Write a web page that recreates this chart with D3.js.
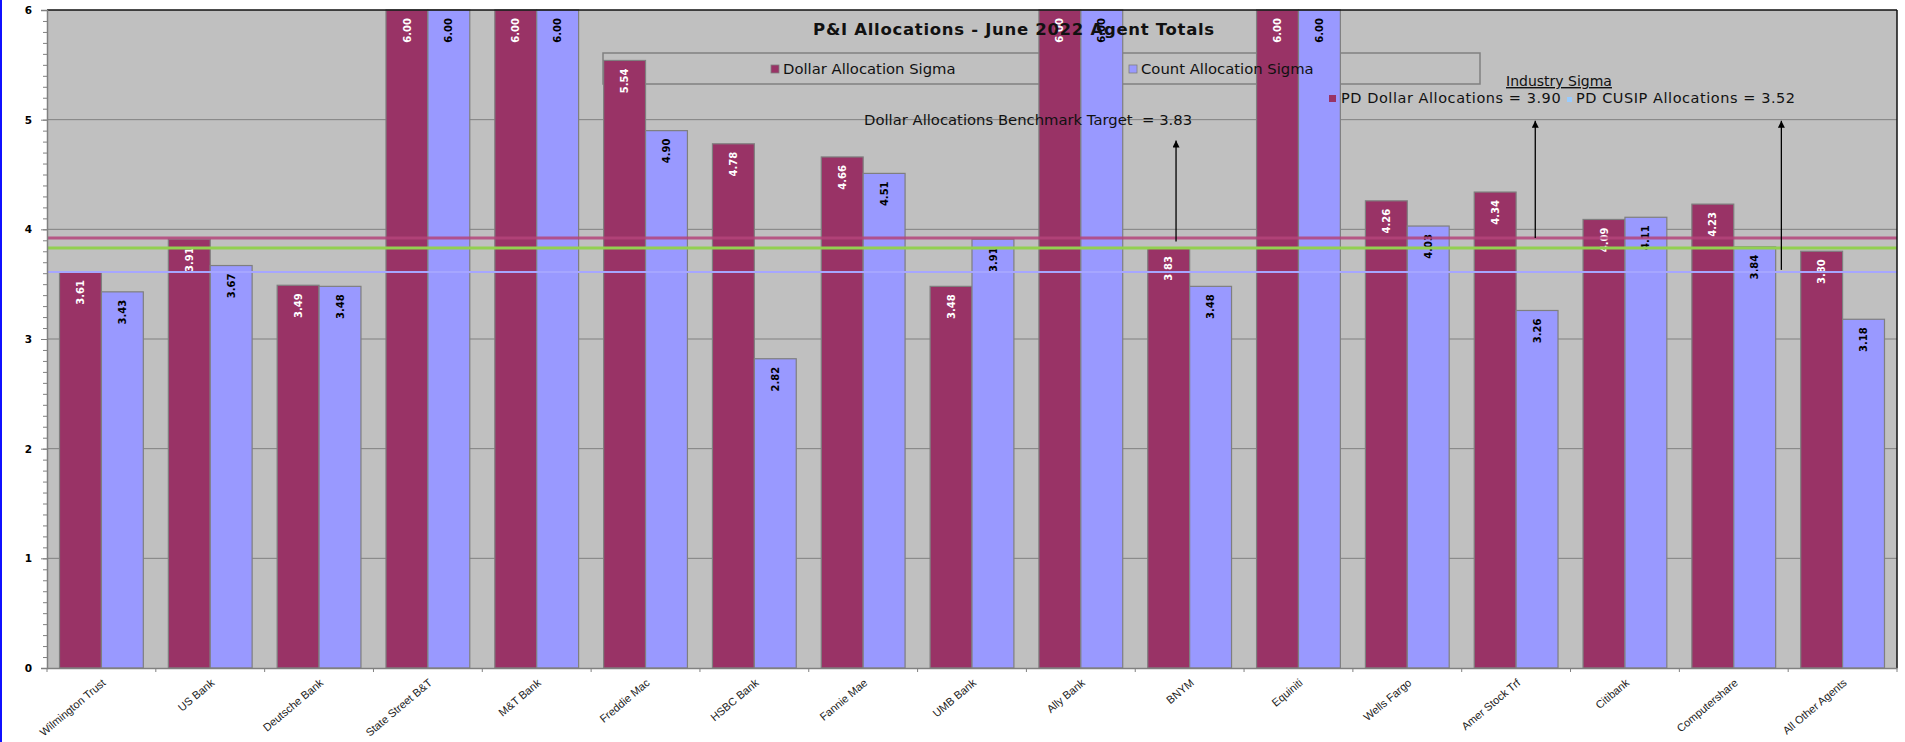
<!DOCTYPE html>
<html>
<head>
<meta charset="utf-8">
<script src="https://cdn.jsdelivr.net/npm/d3@7"></script>
<style>
body { margin: 0; background: #fff; }
.chart svg { display: block; }
</style>
</head>
<body>
<div class="chart"></div>
<script>
// values
const agents = ["Wilmington Trust", "US Bank", "Deutsche Bank", "State Street B&T", "M&T Bank",
  "Freddie Mac", "HSBC Bank", "Fannie Mae", "UMB Bank", "Ally Bank", "BNYM", "Equiniti",
  "Wells Fargo", "Amer Stock Trf", "Citibank", "Computershare", "All Other Agents"];
const dollarSigma = [3.61, 3.91, 3.49, 6.00, 6.00, 5.54, 4.78, 4.66, 3.48, 6.00, 3.83, 6.00, 4.26, 4.34, 4.09, 4.23, 3.80];
const countSigma  = [3.43, 3.67, 3.48, 6.00, 6.00, 4.90, 2.82, 4.51, 3.91, 6.00, 3.48, 6.00, 4.03, 3.26, 4.11, 3.84, 3.18];
const seriesNames = ["Dollar Allocation Sigma", "Count Allocation Sigma"];
const yTicks = [0, 1, 2, 3, 4, 5, 6];

// horizontal reference lines as drawn (industry dollar, benchmark, industry cusip)
const refLines = [3.92, 3.83, 3.61];
const benchmarkLabel = "Dollar Allocations Benchmark Target  = 3.83";
const industryLabels = ["PD Dollar Allocations = 3.90", "PD CUSIP Allocations = 3.52"];

// arrows: agent, position within its band, from value, to value
const arrowAgents = ["BNYM", "Amer Stock Trf", "Computershare"];
const arrowOffsets = [0.375, 0.676, 0.9375];
const arrowFrom = [3.89, 3.92, 3.63];
const arrowTo = [4.81, 4.99, 4.99];

const width = 1905, height = 742;
const margin = ({top: 10, right: 8, bottom: 74, left: 47});
const colors = ["#993366", "#9999ff"];
const noteFont = "DejaVu Sans";

const svg = d3.select(".chart")
  .append("svg")
  .attr("width", width)
  .attr("height", height);

svg.append("rect")
  .attr("x", 0).attr("y", 0).attr("width", 2).attr("height", height)
  .attr("fill", "#1010ff");

const x0 = d3.scaleBand()
  .domain(agents)
  .range([margin.left, width - margin.right])
  .paddingInner(0.23)
  .paddingOuter(0.115);

const x1 = d3.scaleBand()
  .domain([0, 1])
  .range([0, x0.bandwidth()]);

const y = d3.scaleLinear()
  .domain([0, 6])
  .range([height - margin.bottom, margin.top]);

const plotL = margin.left, plotR = width - margin.right;

// plot background
svg.append("rect")
  .attr("x", plotL).attr("y", y(6))
  .attr("width", plotR - plotL).attr("height", y(0) - y(6))
  .attr("fill", "#c0c0c0");

// gridlines
svg.append("g")
  .selectAll("line")
  .data(yTicks.slice(1, -1))
  .join("line")
  .attr("x1", plotL).attr("x2", plotR)
  .attr("y1", d => y(d)).attr("y2", d => y(d))
  .attr("stroke", "#808080")
  .attr("stroke-width", 1);

// legend box (behind the bars)
svg.append("rect")
  .attr("x", 603).attr("y", 53)
  .attr("width", 877).attr("height", 31)
  .attr("fill", "none")
  .attr("stroke", "#808080")
  .attr("stroke-width", 1.5);

// bars
const rows = agents.map((a, i) => ({agent: a, values: [dollarSigma[i], countSigma[i]]}));

const groups = svg.append("g")
  .selectAll("g")
  .data(rows)
  .join("g")
  .attr("transform", d => `translate(${x0(d.agent)},0)`);

groups.selectAll("rect")
  .data(d => d.values.map((v, k) => ({k, v})))
  .join("rect")
  .attr("x", d => x1(d.k))
  .attr("y", d => y(Math.min(d.v, 6)))
  .attr("width", x1.bandwidth())
  .attr("height", d => y(0) - y(Math.min(d.v, 6)))
  .attr("fill", d => colors[d.k])
  .attr("stroke", "#7f7f7f")
  .attr("stroke-width", 1.2);

// reference lines
const refColors = ["#b4447a", "#92d050", "#a6a6ff"];
const refWidths = [3, 3, 2];
svg.append("g")
  .selectAll("line")
  .data(refLines)
  .join("line")
  .attr("x1", plotL).attr("x2", plotR)
  .attr("y1", d => y(d)).attr("y2", d => y(d))
  .attr("stroke", (d, i) => refColors[i])
  .attr("stroke-width", (d, i) => refWidths[i])
  .attr("stroke-opacity", (d, i) => i == 0 ? 0.85 : 1);

// value labels
groups.selectAll("text")
  .data(d => d.values.map((v, k) => ({k, v})))
  .join("text")
  .attr("transform", d => `translate(${x1(d.k) + x1.bandwidth() / 2},${y(Math.min(d.v, 6)) + 8}) rotate(-90)`)
  .attr("text-anchor", "end")
  .attr("dy", "0.36em")
  .attr("font-family", "DejaVu Sans")
  .attr("font-weight", "bold")
  .attr("font-size", 10)
  .attr("fill", d => d.k == 0 ? "#fff" : "#000")
  .text(d => d.v.toFixed(2));

// borders: top and right black
svg.append("line")
  .attr("x1", plotL).attr("x2", plotR)
  .attr("y1", y(6)).attr("y2", y(6))
  .attr("stroke", "#111").attr("stroke-width", 1.5);
svg.append("line")
  .attr("x1", plotR).attr("x2", plotR)
  .attr("y1", y(6)).attr("y2", y(0))
  .attr("stroke", "#111").attr("stroke-width", 1.5);

// y axis
const yAxis = d3.axisLeft(y)
  .tickValues(yTicks)
  .tickFormat(d3.format("d"))
  .tickSize(6)
  .tickPadding(9);

const yMinor = d3.axisLeft(y)
  .tickValues(d3.range(0, 60).map(d => d / 10))
  .tickSize(4)
  .tickFormat("");

svg.append("g")
  .attr("transform", `translate(${plotL},0)`)
  .call(yMinor)
  .call(g => g.selectAll("line").attr("stroke", "#808080"))
  .call(g => g.select(".domain").remove());

svg.append("g")
  .attr("transform", `translate(${plotL},0)`)
  .call(yAxis)
  .call(g => g.select(".domain").attr("stroke", "#808080").attr("stroke-width", 1.5))
  .call(g => g.selectAll("line").attr("stroke", "#808080"))
  .call(g => g.selectAll("text")
    .attr("font-family", "DejaVu Sans")
    .attr("font-weight", "bold")
    .attr("font-size", 10.5)
    .attr("fill", "#000"));

// x axis
const xAxis = d3.axisBottom(x0)
  .tickSize(0)
  .tickPadding(0);

svg.append("g")
  .attr("transform", `translate(0,${y(0)})`)
  .call(xAxis)
  .call(g => g.select(".domain").attr("stroke", "#808080").attr("stroke-width", 1.5))
  .call(g => g.selectAll("text")
    .attr("y", 0).attr("dy", 0)
    .attr("transform", "translate(5,16) rotate(-40)")
    .attr("text-anchor", "end")
    .attr("font-family", "Liberation Sans")
    .attr("font-size", 11)
    .attr("fill", "#222"));

// tick marks at band edges
const edges = agents.map(a => x0(a) - x0.step() * x0.paddingOuter()).concat([plotR]);
svg.append("g")
  .selectAll("line")
  .data(edges)
  .join("line")
  .attr("x1", d => d).attr("x2", d => d)
  .attr("y1", y(0)).attr("y2", y(0) + 4)
  .attr("stroke", "#808080");

// title
svg.append("text")
  .attr("x", 1014).attr("y", 35)
  .attr("text-anchor", "middle")
  .attr("font-family", "DejaVu Sans")
  .attr("font-weight", "bold")
  .attr("font-size", 16.5)
  .attr("letter-spacing", 0.7)
  .attr("fill", "#111")
  .text("P&I Allocations - June 2022 Agent Totals");

// legend
const legendX = [771, 1129];
seriesNames.forEach((name, i) => {
  svg.append("rect")
    .attr("x", legendX[i]).attr("y", 65)
    .attr("width", 8).attr("height", 8)
    .attr("fill", colors[i])
    .attr("stroke", "#7f7f7f").attr("stroke-width", 0.8);
  svg.append("text")
    .attr("x", legendX[i] + 12).attr("y", 74)
    .attr("font-family", noteFont)
    .attr("font-size", 14.8)
    .attr("fill", "#111")
    .text(name);
});

// benchmark note
svg.append("text")
  .attr("x", 864).attr("y", 125)
  .attr("font-family", noteFont)
  .attr("font-size", 14.8)
  .attr("fill", "#111")
  .style("white-space", "pre")
  .text(benchmarkLabel);

// industry sigma note
svg.append("text")
  .attr("x", 1559).attr("y", 86)
  .attr("text-anchor", "middle")
  .attr("font-family", noteFont)
  .attr("font-size", 14)
  .attr("text-decoration", "underline")
  .attr("fill", "#111")
  .text("Industry Sigma");

const indX = [1341, 1576];
const indMarker = ["#993366", "#99ccff"];
industryLabels.forEach((t, i) => {
  svg.append("rect")
    .attr("x", indX[i] - (i == 0 ? 12 : 9)).attr("y", i == 0 ? 95 : 97)
    .attr("width", i == 0 ? 7 : 5).attr("height", i == 0 ? 7 : 5)
    .attr("fill", indMarker[i]);
  svg.append("text")
    .attr("x", indX[i]).attr("y", 103)
    .attr("font-family", noteFont)
    .attr("font-size", 14.5)
    .attr("letter-spacing", 0.55)
    .attr("fill", "#111")
    .text(t);
});

// arrows
svg.append("defs")
  .append("marker")
  .attr("id", "head")
  .attr("viewBox", "0 0 10 10")
  .attr("refX", 10).attr("refY", 5)
  .attr("markerWidth", 7).attr("markerHeight", 7)
  .attr("markerUnits", "userSpaceOnUse")
  .attr("orient", "auto")
  .append("path")
  .attr("d", "M0,0L10,5L0,10z")
  .attr("fill", "#000");

svg.append("g")
  .selectAll("line")
  .data(arrowAgents)
  .join("line")
  .attr("x1", (d, i) => x0(d) - x0.step() * x0.paddingOuter() + x0.step() * arrowOffsets[i])
  .attr("x2", (d, i) => x0(d) - x0.step() * x0.paddingOuter() + x0.step() * arrowOffsets[i])
  .attr("y1", (d, i) => y(arrowFrom[i]))
  .attr("y2", (d, i) => y(arrowTo[i]))
  .attr("stroke", "#000")
  .attr("stroke-width", 1.3)
  .attr("marker-end", "url(#head)");
</script>
</body>
</html>
